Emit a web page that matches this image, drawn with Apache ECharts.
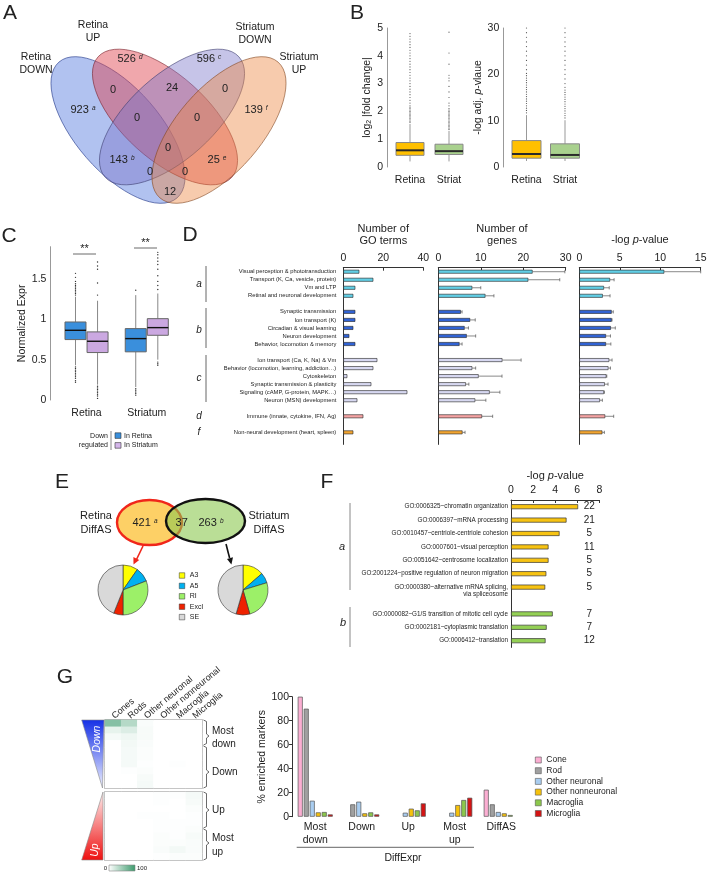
<!DOCTYPE html>
<html><head><meta charset="utf-8">
<script src="https://cdn.jsdelivr.net/npm/echarts@6/dist/echarts.min.js"></script>
<style>html,body{margin:0;padding:0;background:#fff}#c{width:708px;height:874px}</style>
</head><body><div id="c"></div>
<script>
const FONT = 'Liberation Sans, Arial, sans-serif';

// ---------- Panel A: Venn counts ----------
const vennSets = ['Retina\nDOWN', 'Retina\nUP', 'Striatum\nDOWN', 'Striatum\nUP'];
const vennCounts = ['923', '526', '596', '139', '0', '24', '0', '0', '0', '143', '0', '25', '0', '0', '12'];
const vennTags = ['a', 'd', 'c', 'f', '', '', '', '', '', 'b', '', 'e', '', '', ''];

// ---------- Panel B ----------
const bCats = ['Retina', 'Striat'];
const bFcStats = [[0.2, 0.42, 0.6, 0.88, 1.55], [0.2, 0.45, 0.57, 0.82, 1.3]];
const bFcOutRetina = [1.6, 1.65, 1.7, 1.75, 1.8, 1.85, 1.9, 1.95, 2.0, 2.05, 2.1, 2.15, 2.2, 2.3, 2.4, 2.5, 2.6, 2.7, 2.8, 2.9, 3.0, 3.1, 3.2, 3.3, 3.4, 3.5, 3.6, 3.7, 3.8, 3.9, 4.0, 4.1, 4.2, 4.3, 4.4, 4.5, 4.6, 4.7, 4.8];
const bFcOutStriat = [1.35, 1.4, 1.45, 1.5, 1.55, 1.6, 1.65, 1.7, 1.75, 1.8, 1.85, 1.9, 1.95, 2.0, 2.05, 2.1, 2.2, 2.3, 2.5, 2.7, 2.9, 3.1, 3.2, 3.3, 3.7, 4.1, 4.85];
const bPStats = [[1.3, 1.9, 2.8, 5.7, 11.2], [1.3, 1.9, 2.6, 5.0, 10.1]];
const bPOutRetina = [11.7, 12.2, 12.7, 13.2, 13.7, 14.2, 14.7, 15.2, 15.7, 16.2, 16.7, 17.2, 17.7, 18.2, 18.7, 19.2, 19.7, 20.2, 21, 22, 23, 24, 25, 26, 27, 28, 29, 30];
const bPOutStriat = [10.6, 11.1, 11.6, 12.1, 12.6, 13.1, 13.6, 14.1, 14.6, 15.1, 15.6, 16.1, 16.6, 17.2, 18, 19, 20, 21, 22, 23, 24, 25, 26, 27, 28, 29, 30];

// ---------- Panel C ----------
const cCats = ['Retina', 'Striatum'];
const cBlueStats = [[0.43, 0.749, 0.864, 0.967, 1.28], [0.16, 0.597, 0.761, 0.885, 1.3]];
const cPinkStats = [[0.19, 0.588, 0.728, 0.844, 1.23], [0.5, 0.802, 0.897, 1.008, 1.32]];
const cBlueOutRetina = [1.3, 1.32, 1.34, 1.36, 1.38, 1.4, 1.42, 1.44, 1.47, 1.52, 1.57, 0.41, 0.39, 0.37, 0.35, 0.33, 0.31, 0.29, 0.27, 0.24, 0.22];
const cBlueOutStriatum = [1.36, 0.14, 0.12, 0.1, 0.08, 0.06];
const cPinkOutRetina = [1.3, 1.45, 1.62, 1.66, 1.71, 0.17, 0.15, 0.13, 0.11, 0.09, 0.07, 0.05, 0.02];
const cPinkOutStriatum = [1.37, 1.42, 1.47, 1.54, 1.62, 1.68, 1.72, 1.76, 1.8, 1.83, 0.47, 0.45, 0.43];

// ---------- Panel D ----------
const dLabels = ['Visual perception & phototransduction', 'Transport (K, Ca, vesicle, protein)', 'Vm and LTP', 'Retinal and neuronal development',
  'Synaptic transmission', 'Ion transport (K)', 'Circadian & visual learning', 'Neuron development', 'Behavior, locomotion & memory',
  'Ion transport (Ca, K, Na) & Vm', 'Behavior (locomotion, learning, addiction…)', 'Cytoskeleton', 'Synaptic transmission & plasticity',
  'Signaling (cAMP, G-protein, MAPK…)', 'Neuron (MSN) development', 'Immune (innate, cytokine, IFN, Ag)', 'Non-neural development (heart, spleen)'];
const dGroups = ['a', 'a', 'a', 'a', 'b', 'b', 'b', 'b', 'b', 'c', 'c', 'c', 'c', 'c', 'c', 'd', 'f'];
const dGoTerms = [8, 15, 6, 5, 6, 6, 5, 3, 6, 17, 15, 2, 14, 32, 7, 10, 5];
const dGenes = [22.2, 21.2, 8.0, 11.1, 5.3, 7.5, 6.2, 6.7, 5.0, 15.1, 8.0, 9.5, 6.5, 12.1, 8.7, 10.3, 5.7];
const dGenesErr = [29.8, 28.6, 10, 13.1, 5.6, 8.7, 7.1, 8.8, 5.6, 19.5, 8.8, 15, 7.2, 14.5, 11.2, 12.8, 6.3];
const dLogP = [10.5, 3.8, 3.05, 2.9, 4.0, 4.0, 3.9, 3.3, 3.3, 3.7, 3.6, 3.35, 3.15, 3.05, 2.55, 3.2, 2.85];
const dLogPErr = [15, 4.3, 3.7, 3.8, 4.2, 4.05, 4.45, 3.85, 3.9, 4.05, 3.85, 3.4, 3.55, 3.1, 2.85, 4.25, 3.1];
const dColors = {a: '#62cfe6', b: '#3163d4', c: '#d7d8f1', d: '#f5a4a4', f: '#f2a531'};

// ---------- Panel E ----------
const eRetinaOnly = '421', eShared = '37', eStriatumOnly = '263';
const pieCats = ['A3', 'A5', 'RI', 'Excl', 'SE'];
const pieColors = ['#ffff00', '#00b0f0', '#9cf068', '#ee2200', '#d9d9d9'];
const ePieRetina = [9.7, 9.4, 30.9, 6.1, 43.9];
const ePieStriatum = [13.6, 6.7, 25.3, 8.9, 45.5];

// ---------- Panel F ----------
const fLabels = ['GO:0006325~chromatin organization', 'GO:0006397~mRNA processing', 'GO:0010457~centriole-centriole cohesion',
  'GO:0007601~visual perception', 'GO:0051642~centrosome localization', 'GO:2001224~positive regulation of neuron migration',
  'GO:0000380~alternative mRNA splicing,\nvia spliceosome', 'GO:0000082~G1/S transition of mitotic cell cycle',
  'GO:0002181~cytoplasmic translation', 'GO:0006412~translation'];
const fGroups = ['a', 'a', 'a', 'a', 'a', 'a', 'a', 'b', 'b', 'b'];
const fLogP = [6.08, 5.03, 4.4, 3.4, 3.4, 3.2, 3.1, 3.78, 3.23, 3.13];
const fCounts = [22, 21, 5, 11, 5, 5, 5, 7, 7, 12];
const fColors = {a: '#f7c312', b: '#94d055'};

// ---------- Panel G ----------
const gCols = ['Cones', 'Rods', 'Other neuronal', 'Other nonneuronal', 'Macroglia', 'Microglia'];
const gHeatDown = [
  [62, 38, 3, 0, 0, 0], [12, 18, 4, 0, 0, 0], [5, 8, 4, 0, 0, 0], [0, 6, 3, 0, 0, 0], [0, 5, 2, 0, 0, 0],
  [0, 5, 2, 0, 0, 0], [0, 5, 1, 0, 1, 0], [0, 1, 2, 0, 0, 0], [0, 0, 4, 0, 0, 0], [0, 0, 5, 0, 0, 0]];
const gHeatUp = [
  [0, 0, 0, 1, 1, 5], [0, 0, 0, 1, 0, 4], [0, 0, 0, 0, 0, 2], [0, 0, 1, 1, 0, 1], [0, 0, 0, 1, 1, 1],
  [0, 0, 0, 1, 1, 2], [0, 0, 0, 2, 1, 4], [0, 0, 0, 2, 2, 3], [0, 0, 0, 3, 6, 3], [0, 0, 0, 1, 2, 2]];
const gScaleTicks = ['0', '100'];
const gGroups = ['Most\ndown', 'Down', 'Up', 'Most\nup', 'DiffAS'];
const gNames = ['Cone', 'Rod', 'Other neuronal', 'Other nonneuronal', 'Macroglia', 'Microglia'];
const gCone = [100, 0, 0, 0, 22.5];
const gRod = [90, 10.3, 0, 0, 10.3];
const gOtherNeu = [13.3, 12.5, 3.3, 3.3, 3.9];
const gOtherNonneu = [3.6, 2.8, 6.7, 9.7, 2.8];
const gMacro = [3.9, 3.6, 5.3, 13.9, 1.4];
const gMicro = [1.9, 1.9, 11.1, 15.8, 0];
const gColors = ['#fbaed2', '#a0a0a0', '#a9cdf0', '#f6c20c', '#8cc84c', '#d41414'];
const heatLow = '#ffffff', heatHigh = '#3b9a6c';

// ================= helpers =================
function T(x, y, text, o) {
  o = o || {};
  return {type: 'text', x: x, y: y, rotation: o.rotation || 0, z: 20, style: {
    text: text, fill: o.color || '#222', fontSize: o.size || 10.5, fontFamily: FONT,
    fontStyle: o.italic ? 'italic' : 'normal', align: o.align || 'center', verticalAlign: o.va || 'middle',
    lineHeight: o.lh, rich: o.rich}};
}
function L(x1, y1, x2, y2, color, w) {
  return {type: 'line', z: 20, shape: {x1: x1, y1: y1, x2: x2, y2: y2}, style: {stroke: color || '#555', lineWidth: w || 1}};
}
function slotIndex(groups) {
  const idx = []; let s = 0;
  groups.forEach(function (g, i) { if (i > 0 && g !== groups[i - 1]) s++; idx.push(s); s++; });
  return {idx: idx, n: s};
}
function boxRenderer(cfg) {
  return function (params, api) {
    const cat = api.value(0);
    const band = api.size([1, 0])[0];
    const cx = api.coord([cat, 0])[0] + cfg.offset * band;
    const Y = function (i) { return api.coord([cat, api.value(i)])[1]; };
    const w = cfg.width;
    const ls = {stroke: cfg.whisker, lineWidth: 1};
    return {type: 'group', children: [
      {type: 'line', shape: {x1: cx, y1: Y(1), x2: cx, y2: Y(2)}, style: ls},
      {type: 'line', shape: {x1: cx, y1: Y(4), x2: cx, y2: Y(5)}, style: ls},
      {type: 'rect', shape: {x: cx - w / 2, y: Y(4), width: w, height: Y(2) - Y(4)},
        style: {fill: cfg.fills[params.dataIndex % cfg.fills.length], stroke: cfg.border, lineWidth: 1}},
      {type: 'line', shape: {x1: cx - w / 2, y1: Y(3), x2: cx + w / 2, y2: Y(3)}, style: {stroke: cfg.median, lineWidth: cfg.medianWidth}}
    ]};
  };
}
function outRenderer(cfg) {
  return function (params, api) {
    const cat = api.value(0);
    const band = api.size([1, 0])[0];
    const p = api.coord([cat, api.value(1)]);
    return {type: 'circle', shape: {cx: p[0] + cfg.offset * band, cy: p[1], r: cfg.r}, style: {fill: cfg.color}};
  };
}
function errRenderer(params, api) {
  const s = api.value(2);
  const p0 = api.coord([api.value(0), s]);
  const p1 = api.coord([api.value(1), s]);
  const st = {stroke: '#555', lineWidth: 0.7};
  return {type: 'group', children: [
    {type: 'line', shape: {x1: p0[0], y1: p0[1], x2: p1[0], y2: p1[1]}, style: st},
    {type: 'line', shape: {x1: p1[0], y1: p1[1] - 1.6, x2: p1[0], y2: p1[1] + 1.6}, style: st}
  ]};
}
function statsData(stats) { return stats.map(function (s, i) { return [i].concat(s); }); }
function outData(lists) { const r = []; lists.forEach(function (l, i) { l.forEach(function (v) { r.push([i, v]); }); }); return r; }

// ---------- slot layout for D and F ----------
const dSlots = slotIndex(dGroups);
const dN = dSlots.n + 1;
const dCat = new Array(dN).fill('');
dSlots.idx.forEach(function (s, i) { dCat[s] = dLabels[i]; });
function dBar(values) {
  const arr = new Array(dN).fill('-');
  dSlots.idx.forEach(function (s, i) { arr[s] = {value: values[i], itemStyle: {color: dColors[dGroups[i]]}}; });
  return arr;
}
function dErr(values, errs) { return dSlots.idx.map(function (s, i) { return [values[i], errs[i], s]; }); }

const fSlots = slotIndex(fGroups);
const fN = fSlots.n;
const fCat = new Array(fN).fill('');
const fCnt = new Array(fN).fill('');
const fBar = new Array(fN).fill('-');
fSlots.idx.forEach(function (s, i) {
  fCat[s] = fLabels[i].indexOf('\n') >= 0 ? ' \n' + fLabels[i] : fLabels[i];
  fCnt[s] = String(fCounts[i]);
  fBar[s] = {value: fLogP[i], itemStyle: {color: fColors[fGroups[i]]}};
});

function heatData(m) { const r = []; m.forEach(function (row, ri) { row.forEach(function (v, ci) { r.push([ci, ri, v]); }); }); return r; }

// ================= graphics =================
const g = [];
[['A', 10, 13], ['B', 357, 13], ['C', 9, 236], ['D', 190, 235], ['E', 62, 482], ['F', 327, 482], ['G', 65, 677]].forEach(function (p) {
  g.push(T(p[1], p[2], p[0], {size: 21}));
});
const deg = Math.PI / 180;
[
  {x: 118, y: 130, r: -49, fill: 'rgba(70,110,220,0.42)', stroke: 'rgba(40,60,140,0.75)'},
  {x: 165, y: 117, r: -42, fill: 'rgba(222,60,72,0.45)', stroke: 'rgba(120,30,40,0.7)'},
  {x: 172, y: 117, r: 42, fill: 'rgba(120,115,200,0.42)', stroke: 'rgba(60,60,110,0.7)'},
  {x: 219, y: 130, r: 49, fill: 'rgba(236,130,60,0.42)', stroke: 'rgba(130,70,30,0.7)'}
].forEach(function (e) {
  g.push({type: 'ellipse', x: e.x, y: e.y, rotation: e.r * deg, z: 5, shape: {cx: 0, cy: 0, rx: 90, ry: 42},
    style: {fill: e.fill, stroke: e.stroke, lineWidth: 0.8}});
});
const vennSetPos = [[36, 63.5], [93, 32], [255, 33.5], [299, 64]];
vennSets.forEach(function (s, i) { g.push(T(vennSetPos[i][0], vennSetPos[i][1], s, {size: 10.5, lh: 13})); });
const vennPos = [[83, 110], [130, 59], [209, 59], [256, 110], [113, 90], [172, 88], [225, 89], [137, 118], [197, 118],
  [122, 160], [168, 148], [217, 160], [150, 172], [185, 172], [170, 192]];
const supRich = {s: {fontSize: 6.5, fontStyle: 'italic', verticalAlign: 'top', fontFamily: FONT, fill: '#222'}};
vennCounts.forEach(function (c, i) {
  const t = vennTags[i] ? c + ' {s|' + vennTags[i] + '}' : c;
  g.push(T(vennPos[i][0], vennPos[i][1], t, {size: 11, rich: supRich}));
});

g.push(L(73, 254, 96, 254, '#444', 0.8), T(84.5, 249, '**', {size: 11}));
g.push(L(134, 248, 157, 248, '#444', 0.8), T(145.5, 243, '**', {size: 11}));
g.push(T(108, 436, 'Down', {size: 7, align: 'right'}), T(108, 445.5, 'regulated', {size: 7, align: 'right'}));
g.push(L(111, 431, 111, 450, '#666', 0.8));
g.push({type: 'rect', z: 20, shape: {x: 115, y: 432.8, width: 6, height: 5.6}, style: {fill: '#3a8fdc', stroke: '#333', lineWidth: 0.6}});
g.push({type: 'rect', z: 20, shape: {x: 115, y: 442.6, width: 6, height: 5.6}, style: {fill: '#d4b6ea', stroke: '#333', lineWidth: 0.6}});
g.push(T(124, 435.6, 'In Retina', {size: 7, align: 'left'}), T(124, 445.4, 'In Striatum', {size: 7, align: 'left'}));

[['a', 284, 266, 302], ['b', 330, 308, 348], ['c', 378, 355, 402], ['d', 416], ['f', 432]].forEach(function (m) {
  g.push(T(199, m[1], m[0], {size: 10, italic: true}));
  if (m[2]) g.push(L(206, m[2], 206, m[3], '#555', 0.9));
});

g.push({type: 'ellipse', z: 5, shape: {cx: 149.5, cy: 522.5, rx: 32.5, ry: 22.5}, style: {fill: '#fdd066', stroke: '#f0261a', lineWidth: 2.4}});
g.push({type: 'ellipse', z: 6, shape: {cx: 205.5, cy: 521, rx: 39.5, ry: 22}, style: {fill: 'rgba(140,200,80,0.6)', stroke: '#111', lineWidth: 2.4}});
g.push(T(145, 523, eRetinaOnly + ' {s|a}', {size: 11, rich: supRich}));
g.push(T(181.7, 523, eShared, {size: 11}));
g.push(T(211, 523, eStriatumOnly + ' {s|b}', {size: 11, rich: supRich}));
g.push(T(96, 523, 'Retina\nDiffAS', {size: 11, lh: 13.5}));
g.push(T(269, 523, 'Striatum\nDiffAS', {size: 11, lh: 13.5}));
g.push(L(143, 546, 136.5, 559.5, '#f0261a', 1.6));
g.push({type: 'polygon', z: 20, shape: {points: [[133.5, 564.5], [139.2, 560], [133.4, 557]]}, style: {fill: '#f0261a'}});
g.push(L(226, 544, 229.6, 558, '#111', 1.6));
g.push({type: 'polygon', z: 20, shape: {points: [[231.4, 564.5], [233, 557.3], [227, 558.9]]}, style: {fill: '#111'}});

g.push(T(342, 547, 'a', {size: 11, italic: true}), L(350, 503, 350, 590, '#888', 1));
g.push(T(343, 623, 'b', {size: 11, italic: true}), L(350, 607, 350, 647, '#888', 1));

g.push({type: 'polygon', z: 20, shape: {points: [[81.7, 720], [104, 720], [102.5, 788]]},
  style: {fill: {type: 'linear', x: 0, y: 0, x2: 0, y2: 1, colorStops: [{offset: 0, color: '#1530e6'}, {offset: 1, color: '#eef0ff'}]}, stroke: '#888', lineWidth: 0.6}});
g.push({type: 'polygon', z: 20, shape: {points: [[103, 792], [103, 860], [81.7, 860]]},
  style: {fill: {type: 'linear', x: 0, y: 0, x2: 0, y2: 1, colorStops: [{offset: 0, color: '#fff0f0'}, {offset: 1, color: '#ee1010'}]}, stroke: '#888', lineWidth: 0.6}});
g.push(T(97.5, 739, 'Down', {size: 10.5, italic: true, color: '#fff', rotation: Math.PI / 2}));
g.push(T(95.5, 850, 'Up', {size: 10.5, italic: true, color: '#fff', rotation: Math.PI / 2}));
function brace(y1, y2, ty) {
  return {type: 'polyline', z: 20, shape: {points: [[203.5, y1], [206.5, y1 + 1.5], [206.5, ty - 2], [209, ty], [206.5, ty + 2], [206.5, y2 - 1.5], [203.5, y2]]},
    style: {stroke: '#444', lineWidth: 0.8, fill: null}};
}
g.push(brace(720, 745, 736), brace(746, 788, 772), brace(792, 828, 810), brace(829, 860, 843));
g.push(T(212, 731, 'Most', {size: 10, align: 'left'}), T(212, 744.5, 'down', {size: 10, align: 'left'}));
g.push(T(212, 772, 'Down', {size: 10, align: 'left'}), T(212, 810, 'Up', {size: 10, align: 'left'}));
g.push(T(212, 838, 'Most', {size: 10, align: 'left'}), T(212, 852, 'up', {size: 10, align: 'left'}));
g.push(L(296.7, 847.3, 474, 847.3, '#555', 0.9), T(403, 858.5, 'DiffExpr', {size: 10.5}));
g.push({type: 'rect', z: 20, shape: {x: 109, y: 865, width: 26, height: 6},
  style: {fill: {type: 'linear', x: 0, y: 0, x2: 1, y2: 0, colorStops: [{offset: 0, color: heatLow}, {offset: 1, color: heatHigh}]}, stroke: '#888', lineWidth: 0.6}});
g.push(T(107, 868, gScaleTicks[0], {size: 6, align: 'right'}), T(137, 868, gScaleTicks[1], {size: 6, align: 'left'}));

// ================= axes helpers =================
const axCol = '#333';
function catX(grid, data, extra) {
  return Object.assign({gridIndex: grid, type: 'category', data: data, axisLine: {show: false}, axisTick: {show: false},
    axisLabel: {fontSize: 10.5, color: '#222', margin: 8, interval: 0}, splitLine: {show: false}}, extra || {});
}
function topVal(grid, max, interval, name, gap, rich) {
  return {gridIndex: grid, type: 'value', position: 'top', min: 0, max: max, interval: interval,
    axisLine: {show: true, lineStyle: {color: axCol, width: 1}}, axisTick: {show: true, inside: true, length: 3, lineStyle: {color: axCol}},
    axisLabel: {fontSize: 10.5, color: '#222', margin: 4}, splitLine: {show: false},
    name: name, nameLocation: 'middle', nameGap: gap, nameTextStyle: {fontSize: 11, color: '#222', lineHeight: 12.7, rich: rich}};
}
const italicRich = {i: {fontStyle: 'italic', fontSize: 11, fontFamily: FONT, color: '#222'}};
function leftVal(grid, min, max, interval, name, gap, offset, rich) {
  return {gridIndex: grid, type: 'value', min: min, max: max, interval: interval, offset: offset,
    axisLine: {show: true, lineStyle: {color: '#999', width: 1}}, axisTick: {show: false},
    axisLabel: {fontSize: 10.5, color: '#222', margin: 4, showMaxLabel: (max % interval === 0)}, splitLine: {show: false},
    name: name, nameLocation: 'middle', nameGap: gap, nameTextStyle: {fontSize: 10.5, color: '#222', rich: rich}};
}
function catY(grid, data, showLabels, extra) {
  return Object.assign({gridIndex: grid, type: 'category', inverse: true, data: data,
    axisLine: {show: true, lineStyle: {color: axCol, width: 1}}, axisTick: {show: false},
    axisLabel: {show: showLabels, fontSize: 5.8, color: '#222', margin: 7, interval: 0}, splitLine: {show: false}}, extra || {});
}

const gBarSeries = [gCone, gRod, gOtherNeu, gOtherNonneu, gMacro, gMicro].map(function (vals, i) {
  return {type: 'bar', name: gNames[i], xAxisIndex: 9, yAxisIndex: 10, barWidth: 5, barGap: '20%',
    itemStyle: {color: gColors[i], borderColor: '#555', borderWidth: 0.7},
    data: vals.map(function (v) { return v > 0 ? v : '-'; })};
});

const option = {
  animation: false,
  backgroundColor: '#fff',
  textStyle: {fontFamily: FONT},
  grid: [
    {left: 390.5, top: 28, width: 78, height: 139},
    {left: 507.25, top: 28, width: 77, height: 139},
    {left: 56.4, top: 246.7, width: 120.5, height: 153.3},
    {left: 343.3, top: 267.7, width: 80, height: 176.7},
    {left: 438.3, top: 267.7, width: 127.4, height: 176.7},
    {left: 579.3, top: 267.7, width: 121.4, height: 176.7},
    {left: 511, top: 500, width: 88.3, height: 147.4},
    {left: 105, top: 720, width: 97, height: 68, show: true, borderColor: '#9a9a9a', borderWidth: 1.5, backgroundColor: 'transparent'},
    {left: 105, top: 792, width: 97, height: 68, show: true, borderColor: '#9a9a9a', borderWidth: 1.5, backgroundColor: 'transparent'},
    {left: 292, top: 696.7, width: 232.5, height: 120}
  ].map(function (gr) { gr.outerBoundsMode = 'none'; gr.containLabel = false; return gr; }),
  xAxis: [
    catX(0, bCats),
    catX(1, bCats),
    catX(2, cCats),
    topVal(3, 40, 20, 'Number of\nGO terms', 20),
    topVal(4, 30, 10, 'Number of\ngenes', 20),
    topVal(5, 15, 5, '-log {i|p}-value', 21, italicRich),
    topVal(6, 8, 2, '-log {i|p}-value', 17.5, italicRich),
    catX(7, gCols, {position: 'top', axisLabel: {rotate: -40, align: 'left', verticalAlign: 'middle', fontSize: 9, color: '#222', margin: 3, interval: 0}}),
    catX(8, gCols, {show: false}),
    catX(9, gGroups, {axisLabel: {fontSize: 10.5, color: '#222', margin: 4, interval: 0, lineHeight: 13}})
  ],
  yAxis: [
    leftVal(0, 0, 5, 1, 'log{s|2} |fold change|', 14, 3.5, {s: {fontSize: 7, verticalAlign: 'bottom', fontFamily: FONT, color: '#222', padding: [5, 0, 0, 0]}}),
    leftVal(1, 0, 30, 10, '-log adj. {i|p}-vlaue', 16, 4, {i: {fontStyle: 'italic', fontSize: 10.5, fontFamily: FONT, color: '#222'}}),
    leftVal(2, 0, 1.9, 0.5, 'Normalized Expr', 21, 6),
    catY(3, dCat, true),
    catY(4, dCat, false),
    catY(5, dCat, false),
    catY(6, fCat, true, {axisLabel: {show: true, fontSize: 6.3, color: '#222', margin: 3, interval: 0, lineHeight: 7.5}}),
    {gridIndex: 6, type: 'category', inverse: true, position: 'right', data: fCnt, axisLine: {show: false}, axisTick: {show: false},
      axisLabel: {inside: true, align: 'center', margin: 10, fontSize: 10, color: '#222', interval: 0}, splitLine: {show: false}},
    {gridIndex: 7, type: 'category', inverse: true, data: gHeatDown.map(function (r, i) { return 'd' + i; }), show: false},
    {gridIndex: 8, type: 'category', inverse: true, data: gHeatUp.map(function (r, i) { return 'u' + i; }), show: false},
    {gridIndex: 9, type: 'value', min: 0, max: 100, interval: 20,
      axisLine: {show: true, lineStyle: {color: axCol}}, axisTick: {show: true, length: 3, lineStyle: {color: axCol}},
      axisLabel: {fontSize: 10.5, color: '#222', margin: 3}, splitLine: {show: false},
      name: '% enriched markers', nameLocation: 'middle', nameGap: 22, nameTextStyle: {fontSize: 10.5, color: '#222'}}
  ],
  visualMap: [{
    type: 'continuous', min: 0, max: 100, seriesIndex: [14, 15], show: false,
    inRange: {color: [heatLow, heatHigh]}
  }],
  legend: [
    {data: pieCats, orient: 'vertical', left: 174, top: 566.5, itemWidth: 5.5, itemHeight: 5.5, itemGap: 2.4, icon: 'rect', selectedMode: false,
      textStyle: {fontSize: 7, lineHeight: 8, color: '#222'}, itemStyle: {borderColor: '#333', borderWidth: 0.5}},
    {data: gNames, orient: 'vertical', left: 530, top: 750.5, itemWidth: 6, itemHeight: 6, itemGap: 1.7, icon: 'rect', selectedMode: false,
      textStyle: {fontSize: 8.5, lineHeight: 9, color: '#222'}, itemStyle: {borderColor: '#555', borderWidth: 0.6}}
  ],
  series: [
    {type: 'custom', xAxisIndex: 0, yAxisIndex: 0, renderItem: boxRenderer({offset: 0, width: 28, fills: ['#ffc000', '#a9d18e'], border: '#888', whisker: '#999', median: '#2a2a2a', medianWidth: 2}),
      encode: {x: 0, y: [1, 2, 3, 4, 5]}, data: statsData(bFcStats), z: 3},
    {type: 'custom', xAxisIndex: 0, yAxisIndex: 0, renderItem: outRenderer({offset: 0, r: 0.6, color: '#555'}),
      encode: {x: 0, y: 1}, data: outData([bFcOutRetina, bFcOutStriat]), z: 2},
    {type: 'custom', xAxisIndex: 1, yAxisIndex: 1, renderItem: boxRenderer({offset: 0, width: 29, fills: ['#ffc000', '#a9d18e'], border: '#888', whisker: '#999', median: '#2a2a2a', medianWidth: 2}),
      encode: {x: 0, y: [1, 2, 3, 4, 5]}, data: statsData(bPStats), z: 3},
    {type: 'custom', xAxisIndex: 1, yAxisIndex: 1, renderItem: outRenderer({offset: 0, r: 0.6, color: '#555'}),
      encode: {x: 0, y: 1}, data: outData([bPOutRetina, bPOutStriat]), z: 2},
    {type: 'custom', xAxisIndex: 2, yAxisIndex: 2, renderItem: boxRenderer({offset: -0.183, width: 21, fills: ['#3a8fdc'], border: '#666', whisker: '#888', median: '#111', medianWidth: 1.4}),
      encode: {x: 0, y: [1, 2, 3, 4, 5]}, data: statsData(cBlueStats), z: 3},
    {type: 'custom', xAxisIndex: 2, yAxisIndex: 2, renderItem: boxRenderer({offset: 0.183, width: 21, fills: ['#cba8e1'], border: '#666', whisker: '#888', median: '#111', medianWidth: 1.4}),
      encode: {x: 0, y: [1, 2, 3, 4, 5]}, data: statsData(cPinkStats), z: 3},
    {type: 'custom', xAxisIndex: 2, yAxisIndex: 2, renderItem: outRenderer({offset: -0.183, r: 0.7, color: '#333'}),
      encode: {x: 0, y: 1}, data: outData([cBlueOutRetina, cBlueOutStriatum]), z: 2},
    {type: 'custom', xAxisIndex: 2, yAxisIndex: 2, renderItem: outRenderer({offset: 0.183, r: 0.7, color: '#333'}),
      encode: {x: 0, y: 1}, data: outData([cPinkOutRetina, cPinkOutStriatum]), z: 2},
    {type: 'bar', xAxisIndex: 3, yAxisIndex: 3, barWidth: 3.8, itemStyle: {borderColor: '#222', borderWidth: 0.6}, data: dBar(dGoTerms)},
    {type: 'bar', xAxisIndex: 4, yAxisIndex: 4, barWidth: 3.8, itemStyle: {borderColor: '#222', borderWidth: 0.6}, data: dBar(dGenes)},
    {type: 'custom', xAxisIndex: 4, yAxisIndex: 4, renderItem: errRenderer, encode: {x: [0, 1], y: 2}, data: dErr(dGenes, dGenesErr), z: 1},
    {type: 'bar', xAxisIndex: 5, yAxisIndex: 5, barWidth: 3.8, itemStyle: {borderColor: '#222', borderWidth: 0.6}, data: dBar(dLogP)},
    {type: 'custom', xAxisIndex: 5, yAxisIndex: 5, renderItem: errRenderer, encode: {x: [0, 1], y: 2}, data: dErr(dLogP, dLogPErr), z: 1},
    {type: 'bar', xAxisIndex: 6, yAxisIndex: 6, barWidth: 5, itemStyle: {borderColor: '#333', borderWidth: 0.7}, data: fBar},
    {type: 'heatmap', xAxisIndex: 7, yAxisIndex: 8, data: heatData(gHeatDown), itemStyle: {borderWidth: 0}},
    {type: 'heatmap', xAxisIndex: 8, yAxisIndex: 9, data: heatData(gHeatUp), itemStyle: {borderWidth: 0}}
  ].concat(gBarSeries).concat([
    {type: 'pie', name: 'Retina DiffAS', center: [123, 590], radius: 25, startAngle: 90, clockwise: true, silent: true,
      label: {show: false}, labelLine: {show: false}, itemStyle: {borderColor: '#333', borderWidth: 0.6},
      data: pieCats.map(function (n, i) { return {name: n, value: ePieRetina[i], itemStyle: {color: pieColors[i]}}; })},
    {type: 'pie', name: 'Striatum DiffAS', center: [243, 590], radius: 25, startAngle: 90, clockwise: true, silent: true,
      label: {show: false}, labelLine: {show: false}, itemStyle: {borderColor: '#333', borderWidth: 0.6},
      data: pieCats.map(function (n, i) { return {name: n, value: ePieStriatum[i], itemStyle: {color: pieColors[i]}}; })}
  ]),
  graphic: g
};

const chart = echarts.init(document.getElementById('c'), null, {renderer: 'canvas', width: 708, height: 874});
chart.setOption(option);
</script>
</body></html>
